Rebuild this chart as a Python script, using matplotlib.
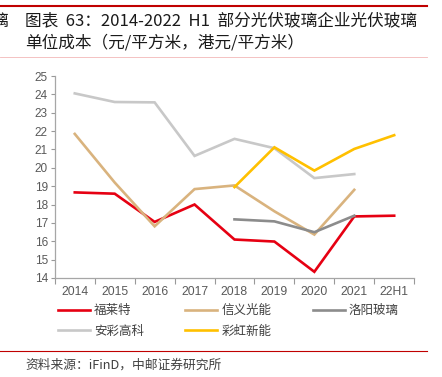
import matplotlib.pyplot as plt
import matplotlib.lines as mlines
import numpy as np

plt.rcParams['font.family'] = ['Noto Sans CJK SC', 'DejaVu Sans']

# === Données ===
years = ["2014", "2015", "2016", "2017", "2018", "2019", "2020", "2021", "22H1"]
fulaite = [18.66, 18.59, 17.05, 18.0, 16.09, 15.98, 14.33, 17.35, 17.39]
xinyi = [21.85, 19.2, 16.81, 18.84, 19.04, 17.63, 16.36, 18.8, None]
luoyang = [None, None, None, None, 17.19, 17.08, 16.49, 17.39, None]
anci = [24.06, 23.59, 23.57, 20.65, 21.58, 21.07, 19.44, 19.66, None]
caihong = [None, None, None, None, 18.95, 21.12, 19.85, 21.03, 21.78]

SERIES = [
    ("福莱特", fulaite, "#E60012"),
    ("信义光能", xinyi, "#D9B37E"),
    ("洛阳玻璃", luoyang, "#8C8C8C"),
    ("安彩高科", anci, "#C8C8C8"),
    ("彩虹新能", caihong, "#FFC000"),
]

fig = plt.figure(figsize=(4.42, 3.77), dpi=100)
ax = fig.add_axes([0.124, 0.263, 0.813, 0.535])

x = np.arange(len(years))
handles = {}
for name, vals, color in SERIES:
    y = np.array([np.nan if v is None else v for v in vals], dtype=float)
    ln, = ax.plot(x, y, color=color, linewidth=1.9, solid_joinstyle="miter")
    handles[name] = ln

ax.set_xlim(-0.5, len(years) - 0.5)
ax.set_ylim(14, 25)
ax.set_yticks(range(14, 26))

# ticks aux frontières des catégories, étiquettes au centre
ax.set_xticks(np.arange(-0.5, len(years), 1.0))
ax.set_xticklabels([])
ax.set_xticks(x, minor=True)
ax.set_xticklabels(years, minor=True)
ax.tick_params(axis="x", which="major", length=4, color="#999999", width=0.8)
ax.tick_params(axis="x", which="minor", length=0, pad=6)
ax.tick_params(axis="y", length=3, color="#999999", width=0.8, pad=2)

for lab in ax.get_xticklabels(minor=True):
    lab.set_family(["Liberation Sans", "DejaVu Sans"])
    lab.set_fontsize(8.7)
    lab.set_color("#595959")
for lab in ax.get_yticklabels():
    lab.set_family(["Liberation Sans", "DejaVu Sans"])
    lab.set_fontsize(8.5)
    lab.set_color("#595959")

for s in ["top", "right"]:
    ax.spines[s].set_visible(False)
for s in ["left", "bottom"]:
    ax.spines[s].set_color("#A6A6A6")
    ax.spines[s].set_linewidth(0.9)

# Légende (remplissage par colonnes -> ordre ligne par ligne)
order = ["福莱特", "安彩高科", "信义光能", "彩虹新能", "洛阳玻璃"]
leg = fig.legend([handles[n] for n in order], order, loc="upper left",
                 bbox_to_anchor=(0.12, 0.206), ncol=3, frameon=False,
                 fontsize=9, handlelength=2.56, handletextpad=0.32,
                 columnspacing=3.3, labelspacing=0.6, borderaxespad=0)
for t in leg.get_texts():
    t.set_color("#404040")

# Titre et lignes rouges
fig.add_artist(mlines.Line2D([0.0, 0.965], [0.985, 0.985], color="#C00000", linewidth=1.5))
fig.add_artist(mlines.Line2D([0.0, 0.965], [0.849, 0.849], color="#F2B8B8", linewidth=0.6))
fig.add_artist(mlines.Line2D([0.0, 0.965], [0.069, 0.069], color="#C00000", linewidth=0.8))
fig.text(-0.02, 0.944, "璃", fontsize=12, color="#1a1a1a", va="center")
fig.text(0.057, 0.944, "图表  63：2014-2022  H1  部分光伏玻璃企业光伏玻璃",
         fontsize=12, color="#1a1a1a", va="center")
fig.text(0.057, 0.886, "单位成本（元/平方米，港元/平方米）",
         fontsize=12, color="#1a1a1a", va="center")
fig.text(0.057, 0.032, "资料来源：iFinD，中邮证券研究所", fontsize=9.2, color="#404040", va="center")

fig.savefig("out.png", dpi=100)
